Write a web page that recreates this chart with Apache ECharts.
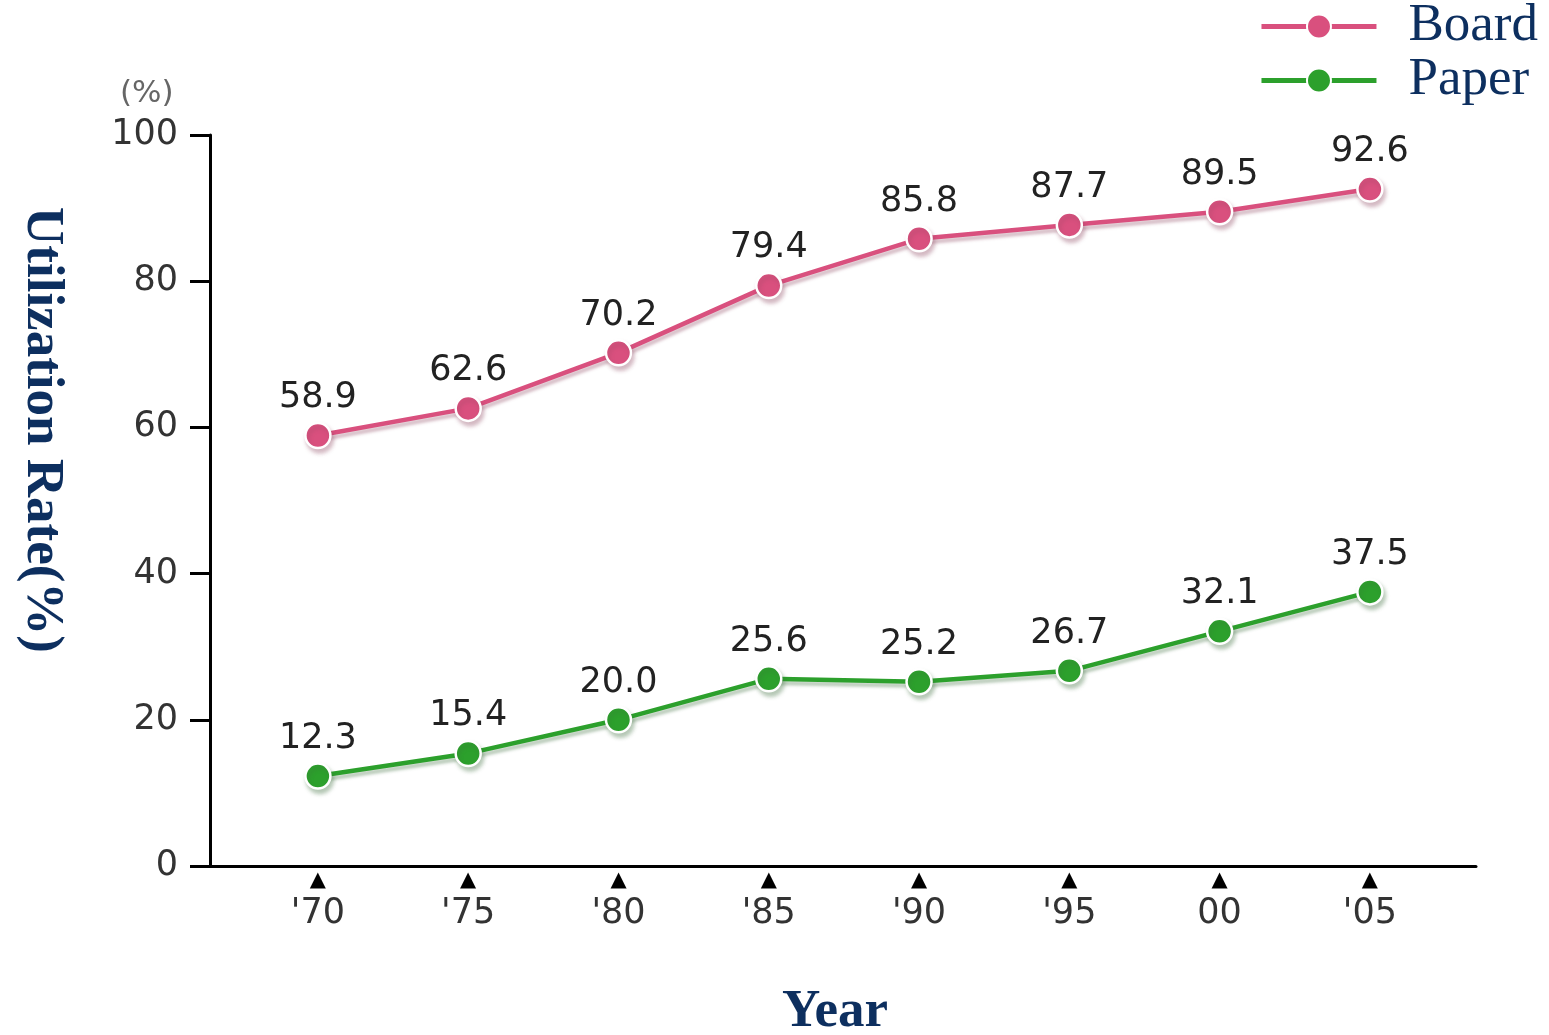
<!DOCTYPE html>
<html>
<head>
<meta charset="utf-8">
<script src="https://cdn.jsdelivr.net/npm/echarts@6/dist/echarts.min.js"></script>
<style>html,body{margin:0;padding:0;background:#fff}#c{width:1549px;height:1035px}</style>
</head>
<body>
<div id="c"></div>
<script>
var years = [1970, 1975, 1980, 1985, 1990, 1995, 2000, 2005];
var yearLabels = ["'70", "'75", "'80", "'85", "'90", "'95", "00", "'05"];
var boardValues = [58.9, 62.6, 70.2, 79.4, 85.8, 87.7, 89.5, 92.6];
var paperValues = [12.3, 15.4, 20.0, 25.6, 25.2, 26.7, 32.1, 37.5];
var yTicks = [0, 20, 40, 60, 80, 100];

var navy = '#0d2f5f';
var chart = echarts.init(document.getElementById('c'), null, {renderer: 'canvas'});

function pairs(vals) { return years.map(function (y, i) { return [y, vals[i]]; }); }

function mkSeries(name, vals, color, shadow) {
  return {
    name: name,
    type: 'line',
    data: pairs(vals),
    symbol: 'circle',
    symbolSize: 25,
    lineStyle: {color: color, width: 4.5, shadowColor: shadow, shadowBlur: 3, shadowOffsetY: 4, shadowOffsetX: 1},
    itemStyle: {color: color, borderColor: '#fff', borderWidth: 2.5, shadowColor: shadow, shadowBlur: 4, shadowOffsetY: 4, shadowOffsetX: 2},
    label: {
      show: true, position: 'top', distance: 6,
      fontFamily: 'DejaVu Sans', fontSize: 35, color: '#222',
      formatter: function (p) { return p.value[1].toFixed(1); }
    },
    emphasis: {disabled: true},
    animation: false
  };
}

chart.setOption({
  backgroundColor: '#fff',
  animation: false,
  grid: {left: 210, right: 73, top: 135, bottom: 169, containLabel: false},
  legend: {
    orient: 'vertical', right: 6, top: -5,
    itemWidth: 115, itemHeight: 30, itemGap: 1,
    data: ['Board', 'Paper'],
    lineStyle: {width: 5},
    textStyle: {fontFamily: 'Liberation Serif', fontSize: 53, color: navy, padding: [0, 0, 0, 27]}
  },
  xAxis: {
    type: 'value', min: 1966.41, max: 2008.53,
    splitLine: {show: false},
    axisLine: {show: true, lineStyle: {color: '#000', width: 3}},
    axisTick: {show: false},
    axisLabel: {
      customValues: years, margin: 4,
      formatter: function (v) { var i = years.indexOf(Math.round(v)); return '{t|▲}\n{l|' + (i >= 0 ? yearLabels[i] : '') + '}'; },
      rich: {
        t: {fontFamily: 'DejaVu Sans', fontSize: 21, lineHeight: 22, color: '#000', align: 'center'},
        l: {fontFamily: 'DejaVu Sans', fontSize: 35, lineHeight: 44, color: '#333', align: 'center'}
      }
    }
  },
  yAxis: {
    type: 'value', min: 0, max: 100, interval: 20,
    splitLine: {show: false},
    axisLine: {show: true, lineStyle: {color: '#000', width: 3}},
    axisTick: {show: true, length: 20, lineStyle: {color: '#000', width: 3}},
    axisLabel: {
      margin: 32, fontFamily: 'DejaVu Sans', fontSize: 35, color: '#333',
      customValues: yTicks
    }
  },
  graphic: [
    {type: 'text', left: 120, top: 78, style: {text: '(%)', fontFamily: 'DejaVu Sans', fontSize: 31, fill: '#666'}},
    {type: 'text', x: 42, y: 430, rotation: -Math.PI / 2,
      style: {text: 'Utilization Rate(%)', fontFamily: 'Liberation Serif', fontWeight: 'bold', fontSize: 53, fill: navy, align: 'center', verticalAlign: 'middle'}},
    {type: 'text', x: 835, y: 1012,
      style: {text: 'Year', fontFamily: 'Liberation Serif', fontWeight: 'bold', fontSize: 53, fill: navy, align: 'center', verticalAlign: 'middle'}}
  ],
  series: [
    mkSeries('Board', boardValues, '#d9507e', 'rgba(140,70,95,0.35)'),
    mkSeries('Paper', paperValues, '#2ca02c', 'rgba(60,110,60,0.35)')
  ]
});
</script>
</body>
</html>
